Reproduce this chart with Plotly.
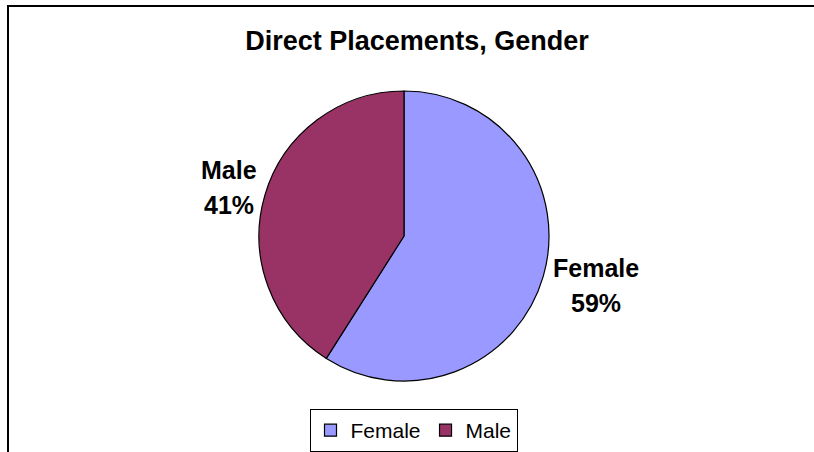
import plotly.graph_objects as go

categories = ["Female", "Male"]
values = [59, 41]
colors = ["#9999FF", "#993366"]
title_text = "Direct Placements, Gender"

W, H = 814, 452
cx, cy, r = 404, 236, 145  # pie centre/radius in pixels (from top)

fig = go.Figure()
fig.add_trace(go.Pie(
    labels=categories,
    values=values,
    sort=False,
    direction="clockwise",
    rotation=0,
    textinfo="none",
    hoverinfo="label+percent",
    marker=dict(colors=colors, line=dict(color="black", width=1.2)),
    domain=dict(x=[(cx - r) / W, (cx + r) / W],
                y=[(H - cy - r) / H, (H - cy + r) / H]),
))

total = sum(values)
label_pos = {"Female": (596, 268, 303), "Male": (229, 170, 205)}
font_bold = dict(family="Liberation Sans, Arial, sans-serif", size=25, color="black")
annotations = []
for cat, val in zip(categories, values):
    x, y1, y2 = label_pos[cat]
    annotations.append(dict(text=f"<b>{cat}</b>", x=x / W, y=1 - y1 / H, xref="paper", yref="paper",
                            showarrow=False, font=font_bold, xanchor="center", yanchor="middle"))
    annotations.append(dict(text=f"<b>{round(val / total * 100)}%</b>", x=x / W, y=1 - y2 / H,
                            xref="paper", yref="paper", showarrow=False, font=font_bold,
                            xanchor="center", yanchor="middle"))

fig.update_layout(
    width=W, height=H,
    margin=dict(l=0, r=0, t=0, b=0),
    paper_bgcolor="white",
    plot_bgcolor="white",
    title=dict(text=f"<b>{title_text}</b>", x=417 / W, xanchor="center",
               y=1 - 41 / H, yanchor="middle",
               font=dict(family="Liberation Sans, Arial, sans-serif", size=27, color="black")),
    showlegend=True,
    legend=dict(orientation="h", x=413.5 / W, xanchor="center", y=1 - 430.5 / H, yanchor="middle",
                bordercolor="black", borderwidth=1, bgcolor="white",
                font=dict(family="Liberation Sans, Arial, sans-serif", size=21, color="black"),
                itemwidth=30),
    annotations=annotations,
    shapes=[dict(type="rect", xref="paper", yref="paper",
                 x0=8 / W, x1=1.05, y0=-0.05, y1=1 - 6 / H,
                 line=dict(color="black", width=2), fillcolor="rgba(0,0,0,0)", layer="below")],
)

fig.write_html("out.html", config={"displayModeBar": False},
               post_script="document.body.style.margin='0';")
